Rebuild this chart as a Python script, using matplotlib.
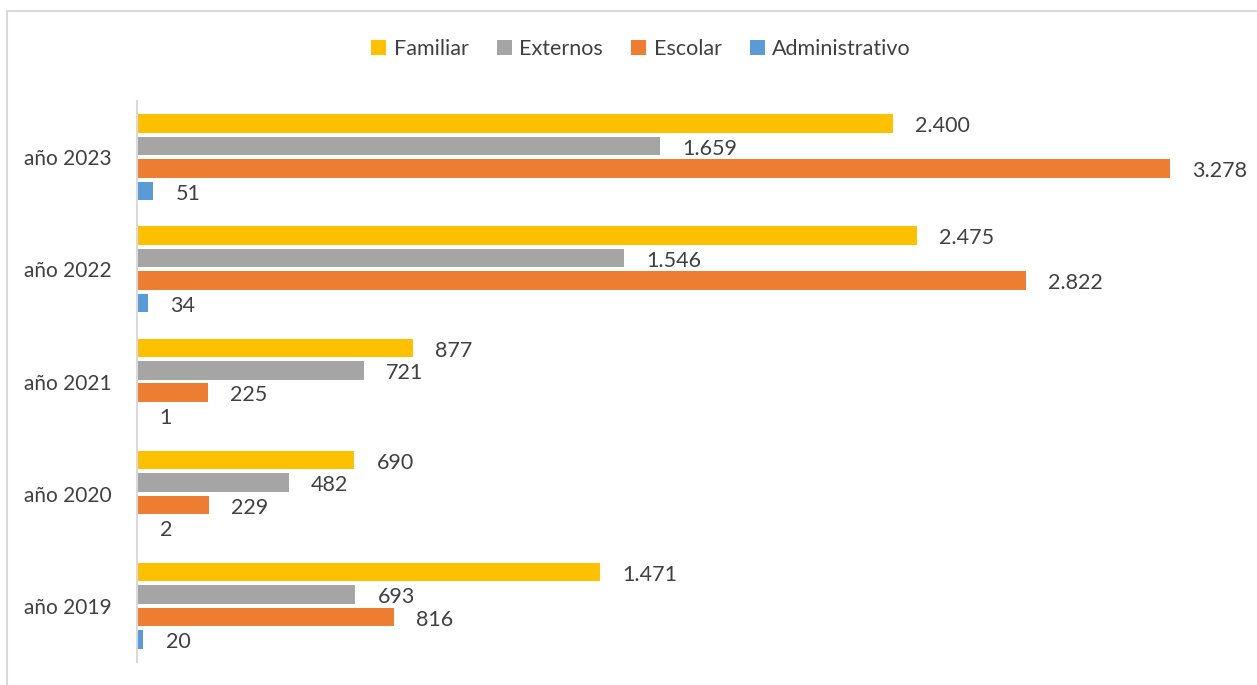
import numpy as np
import matplotlib.pyplot as plt
from matplotlib.patches import Rectangle

plt.rcParams['font.family'] = ['Lato', 'DejaVu Sans']

years = ["año 2019", "año 2020", "año 2021", "año 2022", "año 2023"]
series = ["Familiar", "Externos", "Escolar", "Administrativo"]
familiar = [1471, 690, 877, 2475, 2400]
externos = [693, 482, 721, 1546, 1659]
escolar = [816, 229, 225, 2822, 3278]
administrativo = [20, 2, 1, 34, 51]
colors = ["#FFC000", "#A5A5A5", "#ED7D31", "#5B9BD5"]

values = [familiar, externos, escolar, administrativo]
text_color = "#404040"

fig = plt.figure(figsize=(12.57, 6.85), dpi=100)
ax = fig.add_axes([137 / 1257, 1 - 662 / 685, (1250 - 137) / 1257, 561 / 685])

y = np.arange(len(years))
pitch = 0.2
bh = 0.165
for i, (name, vals, c) in enumerate(zip(series, values, colors)):
    pos = y + (1.5 - i) * pitch
    bars = ax.barh(pos, vals, height=bh, color=c, label=name)
    for b, v in zip(bars, vals):
        ax.annotate(f"{v:,}".replace(",", "."), (b.get_width(), b.get_y() + b.get_height() / 2),
                    xytext=(16, -2), textcoords="offset points", va="center", ha="left",
                    fontsize=15.5, color=text_color)

# ~0.315 px per unit
ax.set_xlim(0, (1250 - 137) / 0.315)
ax.set_ylim(-0.5, 4.5)
ax.set_yticks(y)
ax.set_yticklabels(years, fontsize=15, color=text_color)
ax.tick_params(axis="y", length=0, pad=18)
ax.set_xticks([])
for s in ["top", "right", "bottom"]:
    ax.spines[s].set_visible(False)
ax.spines["left"].set_color("#D9D9D9")
ax.spines["left"].set_linewidth(1.5)

fig.legend(loc="center", bbox_to_anchor=(641 / 1257, 1 - 49 / 685), ncol=4, frameon=False,
           fontsize=15.5, handlelength=0.7, handleheight=0.7, handletextpad=0.35,
           columnspacing=1.3, labelcolor=text_color)

fig.patches.append(Rectangle((7 / 1257, -0.1), 1.2, 1.1 - 11 / 685, transform=fig.transFigure,
                             fill=False, edgecolor="#D9D9D9", linewidth=1.5))

fig.savefig("out.png", dpi=100)
